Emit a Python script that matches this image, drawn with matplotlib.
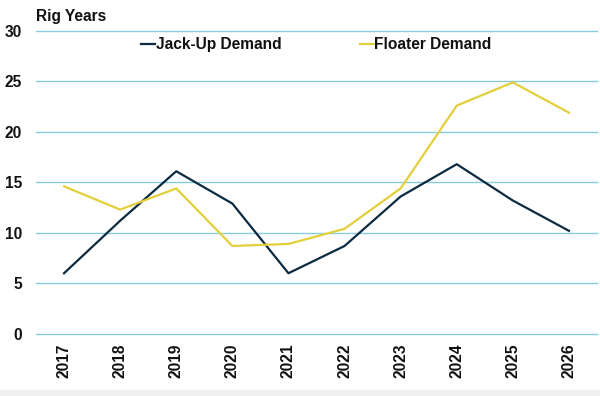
import numpy as np
import matplotlib.pyplot as plt
from matplotlib.patches import Rectangle

plt.rcParams['font.family'] = ['Liberation Sans', 'DejaVu Sans']

years = ['2017', '2018', '2019', '2020', '2021', '2022', '2023', '2024', '2025', '2026']
jackup = [6.0, 11.2, 16.1, 12.9, 6.0, 8.7, 13.6, 16.8, 13.2, 10.2]
floater = [14.6, 12.3, 14.4, 8.7, 8.9, 10.4, 14.4, 22.6, 24.9, 21.9]

navy = '#0c2a40'
yellow = '#e3cf3a'
gridcol = '#86cde0'
fs = 11.2

fig = plt.figure(figsize=(6, 3.96), dpi=100)
ax = fig.add_axes([0.06, 0.157, 0.935, 0.765])

x = np.arange(len(years))
ax.plot(x, jackup, color=navy, lw=1.6, label='Jack-Up Demand')
ax.plot(x, floater, color=yellow, lw=1.6, label='Floater Demand')

ax.set_xlim(-0.5, len(years) - 0.5)
ax.set_ylim(0, 30)
ax.set_yticks([0, 5, 10, 15, 20, 25, 30])
ax.set_xticks(x)
ax.set_xticklabels(years, rotation=90, fontweight='bold', fontsize=fs, color='#111111')
for lab in ax.get_yticklabels():
    lab.set_fontweight('bold')
    lab.set_fontsize(fs)
    lab.set_color('#111111')
ax.tick_params(length=0, pad=10)
ax.tick_params(axis='x', pad=7)
ax.yaxis.grid(True, color=gridcol, lw=1.0)
for gl in ax.get_ygridlines():
    gl.set_clip_on(False)
ax.set_axisbelow(True)
for s in ax.spines.values():
    s.set_visible(False)

fig.text(36 / 600, 1 - 17 / 396, 'Rig Years', fontweight='bold', fontsize=fs,
         color='#111111', va='center', ha='left')

leg = ax.legend(loc='center', bbox_to_anchor=(0.5, 0.954), ncol=2, frameon=False,
                handlelength=0.9, handletextpad=0.05, columnspacing=5.0,
                prop={'weight': 'bold', 'size': fs})
for t in leg.get_texts():
    t.set_color('#111111')

fig.patches.append(Rectangle((0, 0), 1, 6 / 396, transform=fig.transFigure,
                             color='#f0f0f0', zorder=-1))

fig.savefig('out.png', dpi=100)
